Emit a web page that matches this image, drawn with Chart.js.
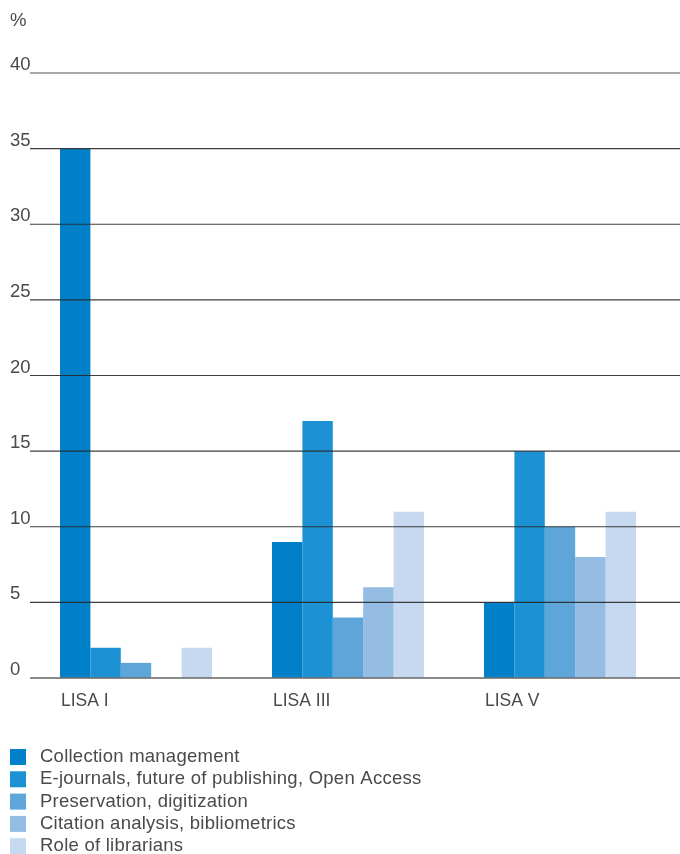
<!DOCTYPE html>
<html>
<head>
<meta charset="utf-8">
<script src="https://cdn.jsdelivr.net/npm/chart.js@4/dist/chart.umd.min.js"></script>
<style>
  body { margin: 0; background: #fff; }
  #wrap { width: 680px; height: 854px; }
</style>
</head>
<body>
<div id="wrap"><canvas id="draw-on-me"></canvas></div>
<script>
const categories = ['LISA I', 'LISA III', 'LISA V']
const seriesNames = [
  'Collection management',
  'E-journals, future of publishing, Open Access',
  'Preservation, digitization',
  'Citation analysis, bibliometrics',
  'Role of librarians'
]
const collection = [35, 9, 5]
const ejournals = [2, 17, 15]
const preservation = [1, 4, 10]
const citation = [0, 6, 8]
const librarians = [2, 11, 11]
const yTicks = [0, 5, 10, 15, 20, 25, 30, 35, 40]
const colors = ['#0080c8', '#1c91d3', '#5ea6da', '#95bde4', '#c6d9f0']

const FAMILY = '"Liberation Sans", Arial, sans-serif'
const TEXT = '#4a4a4a'

// gridlines over the bars, tick labels above lines, category labels, legend
const overlay = {
  id: 'overlay',
  afterDatasetsDraw(chart) {
    const c = chart.ctx
    const y = chart.scales.y
    const x = chart.scales.x
    const left = chart.chartArea.left
    c.save()
    c.textAlign = 'left'
    yTicks.forEach(v => {
      const py = y.getPixelForValue(v)
      const edge = v === 0 || v === 40
      c.beginPath()
      c.strokeStyle = edge ? 'rgba(110,110,110,0.8)' : 'rgba(40,40,40,0.9)'
      c.lineWidth = v === 0 ? 2 : (edge ? 1.5 : 1.2)
      c.moveTo(left, py)
      c.lineTo(chart.width, py)
      c.stroke()
      c.font = '18.5px ' + FAMILY
      c.fillStyle = TEXT
      c.textBaseline = 'alphabetic'
      c.fillText(String(v), 10, py - 3)
    })
    c.fillText('%', 10, 26)
    const band = x.width / categories.length
    c.font = '17.5px ' + FAMILY
    categories.forEach((cat, i) => {
      const px = x.getPixelForValue(i) - band * 0.717 / 2
      c.textBaseline = 'middle'
      c.fillText(cat, px + 1, 701)
    })
    c.font = '18.5px ' + FAMILY
    c.letterSpacing = '0.25px'
    chart.data.datasets.forEach((ds, i) => {
      const cy = 757 + i * 22.3
      c.fillStyle = ds.backgroundColor
      c.fillRect(10, cy - 8, 16, 16)
      c.fillStyle = TEXT
      c.textBaseline = 'middle'
      c.fillText(ds.label, 40, cy)
    })
    c.restore()
  }
}

const ctx = document.getElementById('draw-on-me').getContext('2d')
const values = [collection, ejournals, preservation, citation, librarians]
const myChart = new Chart(ctx, {
  type: 'bar',
  data: {
    labels: categories,
    datasets: seriesNames.map((name, i) => ({
      label: name,
      data: values[i],
      backgroundColor: colors[i],
      borderWidth: 0,
      categoryPercentage: 0.717,
      barPercentage: 1
    }))
  },
  options: {
    responsive: true,
    maintainAspectRatio: false,
    animation: false,
    layout: { padding: { left: 30, right: 14, top: 73, bottom: 176 } },
    plugins: { legend: { display: false }, tooltip: { enabled: false } },
    scales: {
      x: { display: false },
      y: { display: false, min: 0, max: 40 }
    }
  },
  plugins: [overlay]
})
</script>
</body>
</html>
